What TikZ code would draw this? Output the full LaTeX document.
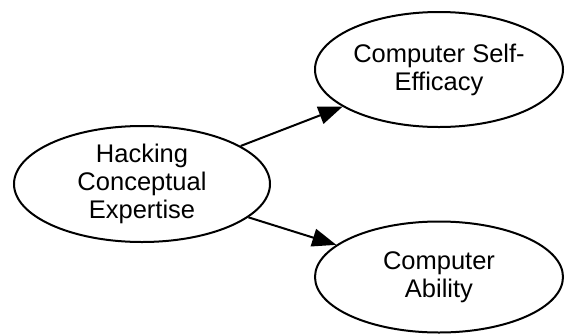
\documentclass[tikz,border=0pt]{standalone}
\usepackage{fontspec}
\setmainfont{Liberation Sans}
\usetikzlibrary{shapes.geometric,arrows.meta}
\begin{document}
\begin{tikzpicture}[x=1pt,y=-1pt,
  construct/.style={draw=black, line width=2pt, ellipse, inner sep=0pt,
    align=center, font=\fontsize{25.5}{28}\selectfont},
  path arrow/.style={draw=black, line width=2pt,
    -{Triangle[length=24pt,width=18pt]}}]
  \useasboundingbox (0,0) rectangle (566,333);
  \node[construct, minimum width=256pt, minimum height=116pt] (hce) at (142,184)
    {Hacking\\Conceptual\\Expertise};
  \node[construct, minimum width=248pt, minimum height=115pt] (cse) at (439,69.5)
    {Computer Self-\\Efficacy};
  \node[construct, minimum width=248pt, minimum height=111pt] (ca) at (439,277)
    {Computer\\Ability};
  \draw[path arrow] (hce) -- (cse);
  \draw[path arrow] (hce) -- (ca);
\end{tikzpicture}
\end{document}
